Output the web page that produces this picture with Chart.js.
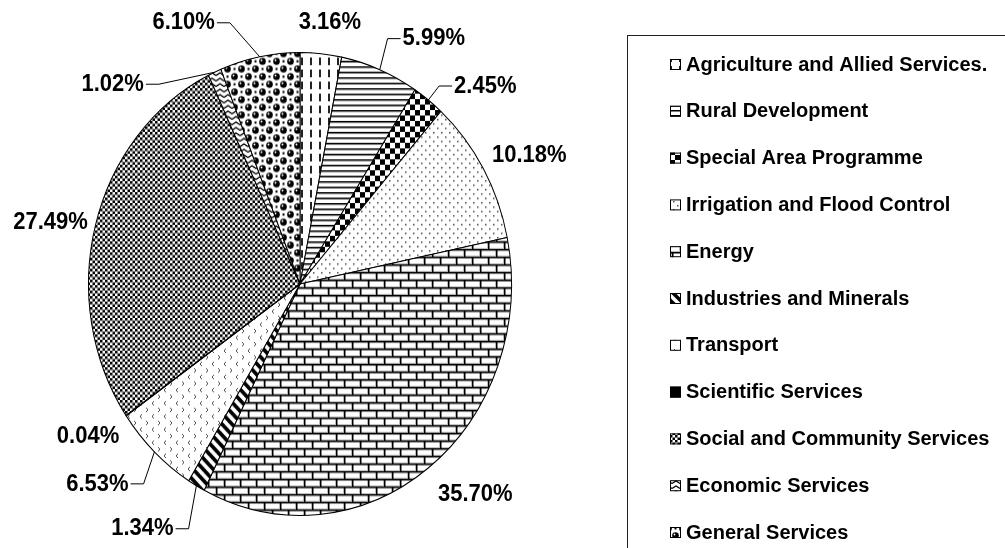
<!DOCTYPE html>
<html>
<head>
<meta charset="utf-8">
<script src="https://cdn.jsdelivr.net/npm/chart.js@4/dist/chart.umd.min.js"></script>
<style>
  body { margin: 0; background: #fff; }
  #wrap { width: 1005px; height: 548px; }
</style>
</head>
<body>
<div id="wrap"><canvas id="grafico" width="1005" height="548"></canvas></div>
<script>
// datos
const sectores = [
  'Agriculture and Allied Services.',
  'Rural Development',
  'Special Area Programme',
  'Irrigation and Flood Control',
  'Energy',
  'Industries and Minerals',
  'Transport',
  'Scientific Services',
  'Social and Community Services',
  'Economic Services',
  'General Services'
];
const porcentajes = [3.16, 5.99, 2.45, 10.18, 35.70, 1.34, 6.53, 0.04, 27.49, 1.02, 6.10];

// desplazamiento de cada etiqueta respecto al borde del sector, y si lleva linea guia
const desplazEtiqueta = [[9, -31], [54, -31], [57, -14], [46, -13], [47, 26], [-54, 43], [-57, 32], [-38, 21], [-45, -2], [-102, 12], [-76, -34]];
const conGuia = [false, true, true, false, false, true, true, false, false, true, true];

const ESTIRAR = 232 / 212; // la imagen original esta estirada en vertical
const FUENTE = '"Liberation Sans", Arial, sans-serif';

function trama(w, h, pintar) {
  const c = document.createElement('canvas');
  c.width = w; c.height = h;
  const g = c.getContext('2d');
  g.fillStyle = '#fff';
  g.fillRect(0, 0, w, h);
  g.fillStyle = '#000';
  g.strokeStyle = '#000';
  pintar(g);
  return g.createPattern(c, 'repeat');
}

const tramas = [
  // guiones verticales
  trama(9, 11, g => { g.fillStyle = '#222'; g.fillRect(4, 0, 2, 7); }),
  // lineas horizontales
  trama(4, 5, g => { g.fillRect(0, 0, 4, 1.5); }),
  // damero grande
  trama(10, 10, g => { g.fillRect(0, 0, 5, 5); g.fillRect(5, 5, 5, 5); }),
  // puntos
  trama(8, 8, g => { g.fillStyle = '#555'; g.fillRect(1, 1, 1.5, 1.5); g.fillRect(5, 5, 1.5, 1.5); }),
  // ladrillos
  trama(16, 14, g => {
    g.fillStyle = '#bbb';
    g.fillRect(0, 6, 16, 1); g.fillRect(0, 13, 16, 1);
    g.fillRect(15, 0, 1, 7); g.fillRect(7, 7, 1, 7);
    g.fillStyle = '#000';
    g.fillRect(0, 0, 16, 1.5); g.fillRect(0, 7, 16, 1.5);
    g.fillRect(0, 0, 1.5, 7); g.fillRect(8, 7, 1.5, 7);
  }),
  // diagonal ancha
  trama(10, 10, g => {
    g.lineWidth = 3.5;
    for (const o of [-10, 0, 10]) {
      g.beginPath(); g.moveTo(o - 2, -2); g.lineTo(o + 12, 12); g.stroke();
    }
  }),
  // chevrones
  trama(12, 12, g => {
    g.strokeStyle = '#555'; g.lineWidth = 1;
    g.beginPath(); g.moveTo(2, 1); g.lineTo(4, 3); g.lineTo(2, 5); g.stroke();
    g.beginPath(); g.moveTo(10, 7); g.lineTo(8, 9); g.lineTo(10, 11); g.stroke();
  }),
  '#000',
  // damero pequeno
  trama(5, 5, g => { g.fillRect(0, 0, 2.5, 2.5); g.fillRect(2.5, 2.5, 2.5, 2.5); }),
  // zigzag
  trama(8, 5, g => {
    g.lineWidth = 1.2;
    g.beginPath(); g.moveTo(0, 3.5); g.lineTo(4, 1); g.lineTo(8, 3.5); g.stroke();
  }),
  // esferas
  trama(14, 14, g => {
    for (const [x, y] of [[3.5, 3.5], [10.5, 10.5]]) {
      g.fillStyle = '#000';
      g.beginPath(); g.arc(x, y, 3.3, 0, Math.PI * 2); g.fill();
      g.fillStyle = '#fff';
      g.beginPath(); g.arc(x - 1, y - 1, 0.9, 0, Math.PI * 2); g.fill();
    }
    g.fillStyle = '#000';
    g.fillRect(9.5, 2.5, 2, 2); g.fillRect(2.5, 9.5, 2, 2);
  })
];

const estirar = {
  id: 'estirar',
  beforeDatasetsDraw(chart) {
    const arc = chart.getDatasetMeta(0).data[0];
    const ctx = chart.ctx;
    ctx.save();
    ctx.translate(arc.x, arc.y);
    ctx.scale(1, ESTIRAR);
    ctx.translate(-arc.x, -arc.y);
  },
  afterDatasetsDraw(chart) {
    chart.ctx.restore();
  }
};

const etiquetas = {
  id: 'etiquetas',
  afterDraw(chart) {
    const ctx = chart.ctx;
    const meta = chart.getDatasetMeta(0);
    ctx.save();
    ctx.font = 'bold 22px ' + FUENTE;
    ctx.textAlign = 'center';
    ctx.textBaseline = 'middle';
    ctx.fillStyle = '#000';
    ctx.strokeStyle = '#000';
    ctx.lineWidth = 1;
    meta.data.forEach((arc, i) => {
      const medio = (arc.startAngle + arc.endAngle) / 2;
      const ax = arc.x + arc.outerRadius * Math.cos(medio);
      const ay = arc.y + arc.outerRadius * ESTIRAR * Math.sin(medio);
      const tx = ax + desplazEtiqueta[i][0];
      const ty = ay + desplazEtiqueta[i][1];
      const texto = porcentajes[i].toFixed(2) + '%';
      if (conGuia[i]) {
        const w = ctx.measureText(texto).width / 2;
        const borde = tx < ax ? tx + w + 2 : tx - w - 2;
        const codo = tx < ax ? borde + 13 : borde - 13;
        ctx.beginPath();
        ctx.moveTo(ax, ay);
        ctx.lineTo(codo, ty);
        ctx.lineTo(borde, ty);
        ctx.stroke();
      }
      ctx.save();
      ctx.translate(tx, ty);
      ctx.scale(1, ESTIRAR);
      ctx.fillText(texto, 0, 0);
      ctx.restore();
    });

    // leyenda
    ctx.strokeStyle = '#222';
    ctx.strokeRect(627.5, 35.5, 500, 600);
    ctx.font = 'bold 20px ' + FUENTE;
    ctx.textAlign = 'left';
    const ds = chart.data.datasets[0];
    chart.data.labels.forEach((nombre, i) => {
      const y = 64 + i * 46.8;
      ctx.fillStyle = ds.backgroundColor[i];
      ctx.fillRect(670, y - 5, 11, 11);
      ctx.strokeStyle = '#000';
      ctx.strokeRect(670.5, y - 4.5, 10, 10);
      ctx.fillStyle = '#000';
      ctx.fillText(nombre, 686, y + 1);
    });
    ctx.restore();
  }
};

new Chart(document.getElementById('grafico'), {
  type: 'pie',
  data: {
    labels: sectores,
    datasets: [{
      data: porcentajes,
      backgroundColor: tramas,
      borderColor: '#000',
      borderWidth: 1,
      clip: false
    }]
  },
  options: {
    responsive: false,
    animation: false,
    events: [],
    layout: { padding: { left: 88, right: 493, top: 72, bottom: 52 } },
    plugins: {
      legend: { display: false },
      tooltip: { enabled: false }
    }
  },
  plugins: [estirar, etiquetas]
});
</script>
</body>
</html>
